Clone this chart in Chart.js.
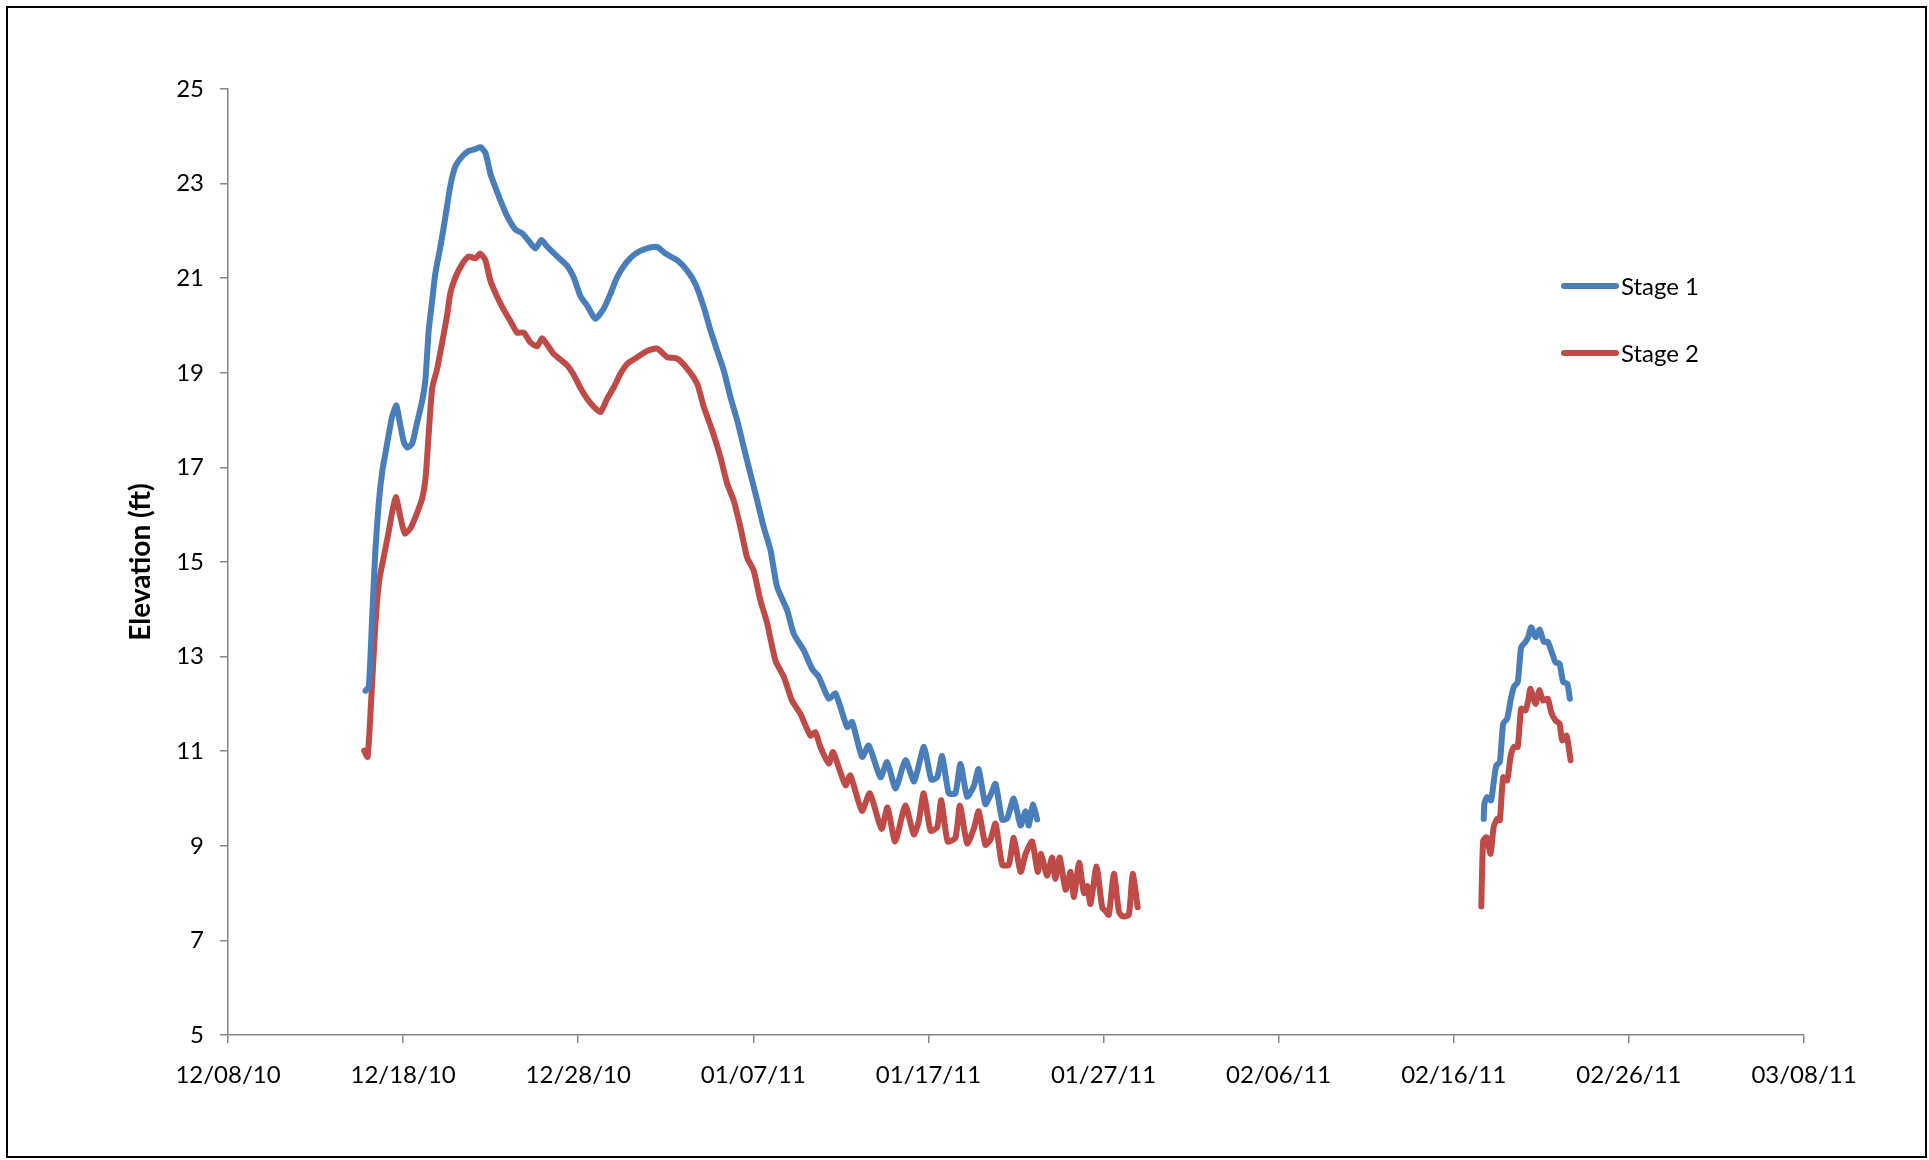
<!DOCTYPE html>
<html>
<head>
<meta charset="utf-8">
<script src="https://cdn.jsdelivr.net/npm/chart.js@4/dist/chart.umd.min.js"></script>
<style>
  html, body { margin: 0; padding: 0; background: #fff; overflow: hidden; }
  canvas { display: block; }
</style>
</head>
<body>
<canvas id="grafica" width="1929" height="1160"></canvas>
<script>
const ctx = document.getElementById("grafica");

// days since 12/08/10; null = gap in record
const stage1Days = [7.85, 8.04, 8.23, 8.42, 8.61, 8.80, 8.99, 9.18, 9.37, 9.62, 9.81, 10.04, 10.23, 10.51, 10.80, 11.08, 11.27, 11.46, 11.66, 11.84,
  12.13, 12.42, 12.70, 12.99, 13.37, 13.75, 14.13, 14.41, 14.70, 14.99, 15.27, 15.56, 15.94, 16.41, 16.80, 17.17, 17.56, 17.90, 18.22, 18.80,
  19.37, 19.74, 20.13, 20.51, 20.98, 21.46, 21.84, 22.22, 22.70, 23.27, 23.84, 24.51, 24.98, 25.65, 26.22, 26.69, 27.17, 27.55, 27.93, 28.31,
  28.69, 29.08, 29.45, 29.83, 30.22, 30.59, 30.98, 31.36, 31.93, 32.31, 32.88, 33.36, 33.74, 34.31, 34.69, 35.36, 35.64, 36.21, 36.59, 37.26,
  37.64, 38.12, 38.69, 39.16, 39.35, 39.75, 40.16, 40.50, 40.78, 41.16, 41.54, 41.83, 42.21, 42.59, 42.86, 43.25, 43.54, 43.83, 44.21, 44.50,
  44.87, 45.26, 45.55, 45.73, 45.96, 46.21,
  60,
  71.71, 71.75, 71.90, 72.13, 72.28, 72.43, 72.63, 72.82, 73.05, 73.24, 73.43, 73.65, 73.85, 74.09, 74.25, 74.42, 74.67, 74.91, 75.14, 75.37,
  75.56, 75.81, 76.04, 76.25, 76.48, 76.63];
const stage1Elev = [12.28, 12.36, 13.82, 15.27, 16.25, 16.89, 17.30, 17.70, 18.07, 18.31, 17.95, 17.54, 17.42, 17.50, 17.95, 18.39, 18.84, 19.89, 20.53, 21.10,
  21.67, 22.31, 22.96, 23.37, 23.57, 23.69, 23.73, 23.77, 23.65, 23.20, 22.92, 22.64, 22.31, 22.03, 21.95, 21.79, 21.63, 21.81, 21.67, 21.46,
  21.26, 21.02, 20.62, 20.42, 20.14, 20.36, 20.67, 21.02, 21.31, 21.52, 21.62, 21.66, 21.52, 21.38, 21.16, 20.88, 20.39, 19.90, 19.47, 19.05,
  18.49, 17.99, 17.43, 16.87, 16.30, 15.74, 15.25, 14.47, 13.98, 13.48, 13.13, 12.74, 12.57, 12.11, 12.22, 11.51, 11.62, 10.88, 11.12, 10.45,
  10.77, 10.21, 10.81, 10.36, 10.56, 11.09, 10.40, 10.45, 10.90, 10.11, 10.11, 10.73, 10.04, 10.26, 10.62, 9.88, 10.07, 10.31, 9.55, 9.58,
  10.00, 9.43, 9.73, 9.43, 9.87, 9.56,
  null,
  9.57, 9.89, 10.03, 9.96, 10.35, 10.70, 10.77, 11.58, 11.69, 12.07, 12.36, 12.46, 13.20, 13.31, 13.41, 13.62, 13.41, 13.57, 13.31, 13.31,
  13.13, 12.88, 12.85, 12.46, 12.43, 12.11];

const stage2Days = [7.78, 7.97, 8.17, 8.42, 8.63, 8.89, 9.18, 9.37, 9.60, 9.86, 10.10, 10.43, 10.80, 11.08, 11.27, 11.46, 11.66, 11.94, 12.23, 12.51,
  12.70, 12.99, 13.37, 13.75, 14.13, 14.41, 14.70, 14.99, 15.37, 15.75, 16.13, 16.51, 16.89, 17.27, 17.65, 17.94, 18.22, 18.60, 18.98, 19.37,
  19.74, 20.13, 20.51, 20.89, 21.27, 21.65, 22.04, 22.41, 22.80, 23.37, 23.93, 24.51, 25.08, 25.65, 26.22, 26.79, 27.17, 27.65, 28.12, 28.50,
  28.88, 29.26, 29.64, 30.02, 30.40, 30.78, 31.26, 31.74, 32.21, 32.69, 33.26, 33.54, 33.83, 34.31, 34.55, 35.26, 35.54, 36.20, 36.65, 37.32,
  37.66, 38.10, 38.68, 39.16, 39.44, 39.73, 40.12, 40.50, 40.73, 41.10, 41.54, 41.80, 42.21, 42.59, 42.87, 43.25, 43.54, 43.83, 44.21, 44.59,
  44.87, 45.26, 45.55, 45.92, 46.24, 46.43, 46.77, 47.06, 47.25, 47.50, 47.83, 48.12, 48.31, 48.60, 48.88, 49.07, 49.25, 49.60, 49.92, 50.11,
  50.30, 50.59, 50.87, 51.06, 51.44, 51.66, 51.95,
  60,
  71.57, 71.68, 71.87, 72.10, 72.28, 72.48, 72.63, 72.82, 73.05, 73.24, 73.43, 73.65, 73.85, 74.09, 74.25, 74.38, 74.67, 74.88, 75.10, 75.37,
  75.56, 75.81, 76.04, 76.19, 76.44, 76.67];
const stage2Elev = [11.01, 10.88, 12.03, 13.70, 14.60, 15.10, 15.65, 16.05, 16.37, 15.92, 15.60, 15.72, 16.04, 16.33, 16.73, 17.70, 18.67, 19.08, 19.64, 20.21,
  20.69, 21.02, 21.30, 21.46, 21.42, 21.52, 21.38, 20.94, 20.61, 20.33, 20.09, 19.85, 19.85, 19.64, 19.56, 19.73, 19.60, 19.40, 19.28, 19.16,
  18.96, 18.68, 18.45, 18.28, 18.17, 18.45, 18.70, 18.98, 19.19, 19.33, 19.46, 19.51, 19.33, 19.30, 19.09, 18.77, 18.28, 17.78, 17.22, 16.66,
  16.30, 15.74, 15.10, 14.82, 14.19, 13.72, 12.92, 12.57, 12.07, 11.79, 11.33, 11.40, 11.09, 10.74, 10.98, 10.28, 10.49, 9.74, 10.11, 9.36,
  9.81, 9.09, 9.85, 9.24, 9.51, 10.11, 9.32, 9.39, 9.96, 9.09, 9.17, 9.85, 9.05, 9.36, 9.73, 9.02, 9.13, 9.47, 8.60, 8.60,
  9.17, 8.45, 8.83, 9.09, 8.45, 8.83, 8.37, 8.75, 8.30, 8.75, 8.07, 8.45, 7.92, 8.64, 8.00, 8.15, 7.77, 8.56, 7.70, 7.62,
  7.54, 8.41, 7.62, 7.51, 7.54, 8.41, 7.70,
  null,
  7.72, 9.11, 9.18, 8.83, 9.40, 9.57, 9.54, 10.45, 10.38, 10.88, 11.09, 11.09, 11.90, 11.86, 12.07, 12.32, 12.00, 12.29, 12.07, 12.11,
  11.83, 11.65, 11.58, 11.23, 11.33, 10.81];

const xTickLabels = ["12/08/10", "12/18/10", "12/28/10", "01/07/11", "01/17/11", "01/27/11", "02/06/11", "02/16/11", "02/26/11", "03/08/11"];
const seriesNames = ["Stage 1", "Stage 2"];
const seriesColors = ["#4A7EBB", "#BE4B48"];

const FONT = "Lato, 'Open Sans', sans-serif";

function toPoints(days, vals) {
    return days.map((d, i) => ({ x: d, y: vals[i] }));
}

// outer frame + legend drawn over the plot like the Excel original
const frameAndLegend = {
    id: "frameAndLegend",
    afterDraw(chart) {
        const c = chart.ctx;
        c.save();
        c.strokeStyle = "#000";
        c.lineWidth = 2;
        c.strokeRect(7, 7, 1919, 1150);

        c.font = "24px " + FONT;
        c.textBaseline = "middle";
        chart.data.datasets.forEach((ds, i) => {
            const y = 286 + i * 67;
            c.strokeStyle = ds.borderColor;
            c.lineWidth = 6;
            c.lineCap = "round";
            c.beginPath();
            c.moveTo(1564, y);
            c.lineTo(1616, y);
            c.stroke();
            c.fillStyle = "#000";
            c.fillText(ds.label, 1621, y + 1);
        });
        c.restore();
    }
};

new Chart(ctx, {
    type: "line",
    data: {
        datasets: [
            {
                label: seriesNames[0],
                data: toPoints(stage1Days, stage1Elev),
                borderColor: seriesColors[0],
                borderWidth: 6,
                pointRadius: 0,
                tension: 0.2,
                borderJoinStyle: "round",
                borderCapStyle: "round",
                spanGaps: false
            },
            {
                label: seriesNames[1],
                data: toPoints(stage2Days, stage2Elev),
                borderColor: seriesColors[1],
                borderWidth: 6,
                pointRadius: 0,
                tension: 0.2,
                borderJoinStyle: "round",
                borderCapStyle: "round",
                spanGaps: false
            }
        ]
    },
    options: {
        responsive: false,
        animation: false,
        devicePixelRatio: 1,
        layout: { padding: { left: 124, top: 89, right: 125, bottom: 0 } },
        plugins: {
            legend: { display: false },
            tooltip: { enabled: false }
        },
        scales: {
            x: {
                type: "linear",
                min: 0,
                max: 90,
                afterFit: s => { s.height = 125; },
                grid: { drawOnChartArea: false, color: "#868686", lineWidth: 1.5, tickLength: 8 },
                border: { color: "#868686", width: 1.5 },
                ticks: {
                    stepSize: 10,
                    autoSkip: false,
                    maxRotation: 0,
                    padding: 18,
                    color: "#000",
                    font: { family: FONT, size: 24 },
                    callback: v => xTickLabels[Math.round(v / 10)]
                }
            },
            y: {
                min: 5,
                max: 25,
                afterFit: s => { s.width = 104; },
                grid: { drawOnChartArea: false, color: "#868686", lineWidth: 1.5, tickLength: 8 },
                border: { color: "#868686", width: 1.5 },
                ticks: {
                    stepSize: 2,
                    padding: 16,
                    color: "#000",
                    font: { family: FONT, size: 24 }
                },
                title: {
                    display: true,
                    text: "Elevation (ft)",
                    color: "#000",
                    padding: 0,
                    font: { family: FONT, size: 28, weight: "bold" }
                }
            }
        }
    },
    plugins: [frameAndLegend]
});
</script>
</body>
</html>
